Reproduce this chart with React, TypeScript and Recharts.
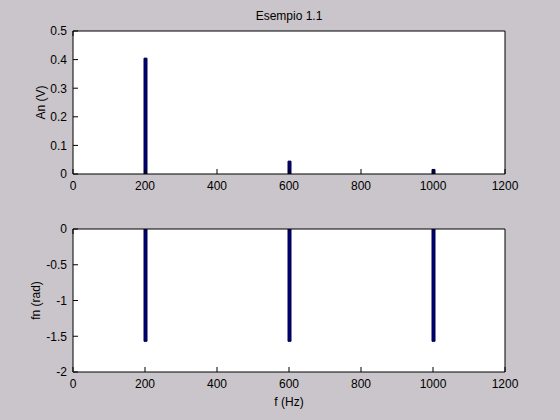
import React from 'react';
import { BarChart, Bar, XAxis, YAxis, CartesianGrid } from 'recharts';

const frequencies = [200, 600, 1000];
const amplitudes = [0.405, 0.045, 0.016];
const phases = [-1.5708, -1.5708, -1.5708];
const xTicks = [0, 200, 400, 600, 800, 1000, 1200];
const ampTicks = [0, 0.1, 0.2, 0.3, 0.4, 0.5];
const phaseTicks = [-2, -1.5, -1, -0.5, 0];

const ampData = frequencies.map((f, i) => ({ f, v: amplitudes[i] }));
const phaseData = frequencies.map((f, i) => ({ f, v: phases[i] }));

const FONT = '"Liberation Sans", Arial, sans-serif';
const BG = '#cac5ca';
const FS = 12;
const TICK = 5;
const XM = 7; // gap between x axis and tick label top
const YM = 6; // gap between y axis and tick label end

const BottomTick = (p: any) => {
  const axisY = p.y - XM;
  return (
    <g>
      <line x1={p.x} x2={p.x} y1={axisY} y2={axisY - TICK} stroke="#000" />
      <text x={p.x} y={p.y} dy="0.71em" textAnchor="middle" fill="#000" fontSize={FS} fontFamily={FONT}>
        {p.payload.value}
      </text>
    </g>
  );
};

const TopTick = (p: any) => (
  <line x1={p.x} x2={p.x} y1={p.y} y2={p.y + TICK} stroke="#000" />
);

const LeftTick = (p: any) => {
  const axisX = p.x + YM;
  return (
    <g>
      <line x1={axisX} x2={axisX + TICK} y1={p.y} y2={p.y} stroke="#000" />
      <text x={p.x} y={p.y} dy="0.36em" textAnchor="end" fill="#000" fontSize={FS} fontFamily={FONT}>
        {p.payload.value}
      </text>
    </g>
  );
};

const RightTick = (p: any) => (
  <line x1={p.x} x2={p.x - TICK} y1={p.y} y2={p.y} stroke="#000" />
);

const rotLabel = (text: string, cx: number) => (props: any) => {
  const vb = props.viewBox || {};
  const cy = vb.y + vb.height / 2;
  return (
    <text
      x={cx}
      y={cy}
      textAnchor="middle"
      dominantBaseline="central"
      transform={`rotate(-90 ${cx} ${cy})`}
      fill="#000"
      fontSize={FS}
      fontFamily={FONT}
    >
      {text}
    </text>
  );
};

function Panel(props: {
  data: any[];
  domain: [number, number];
  yTicks: number[];
  top: number;
  bottom: number;
  yLabel: string;
  yLabelX: number;
  title?: string;
  xLabel?: string;
  xHeight: number;
}) {
  const { data, domain, yTicks, top, bottom, yLabel, yLabelX, title, xLabel, xHeight } = props;
  return (
    <BarChart
      width={560}
      height={210}
      data={data}
      margin={{ top: top - 1, left: 33, right: 54, bottom }}
      barSize={3}
    >
      <CartesianGrid horizontal={false} vertical={false} fill="#ffffff" stroke="none" />
      <XAxis
        dataKey="f"
        type="number"
        domain={[0, 1200]}
        ticks={xTicks}
        allowDataOverflow
        stroke="#000"
        tickLine={false}
        tickSize={0}
        tickMargin={XM}
        tick={<BottomTick />}
        height={xHeight}
        interval={0}
        label={
          xLabel
            ? { value: xLabel, position: 'insideBottom', offset: 2, fill: '#000', fontSize: FS, fontFamily: FONT }
            : undefined
        }
      />
      <XAxis
        xAxisId="top"
        orientation="top"
        type="number"
        domain={[0, 1200]}
        ticks={xTicks}
        stroke="#000"
        tickLine={false}
        tickSize={0}
        tickMargin={0}
        tick={<TopTick />}
        interval={0}
        height={1}
        label={
          title
            ? { value: title, position: 'top', offset: 10, fill: '#000', fontSize: FS, fontFamily: FONT }
            : undefined
        }
      />
      <YAxis
        type="number"
        domain={domain}
        ticks={yTicks}
        allowDataOverflow
        stroke="#000"
        tickLine={false}
        tickSize={0}
        tickMargin={YM}
        tick={<LeftTick />}
        interval={0}
        width={40}
        label={{ content: rotLabel(yLabel, yLabelX) } as any}
      />
      <YAxis
        yAxisId="right"
        orientation="right"
        type="number"
        domain={domain}
        ticks={yTicks}
        stroke="#000"
        tickLine={false}
        tickSize={0}
        tickMargin={0}
        tick={<RightTick />}
        interval={0}
        width={1}
      />
      <Bar dataKey="v" fill="#00007f" stroke="#000040" strokeWidth={1} isAnimationActive={false} />
    </BarChart>
  );
}

export default function App() {
  return (
    <div
      style={{
        position: 'absolute',
        left: 0,
        top: 0,
        width: 560,
        height: 420,
        background: BG,
        overflow: 'hidden',
      }}
    >
      <div style={{ position: 'absolute', left: 0, top: 0 }}>
        <Panel
          data={ampData}
          domain={[0, 0.5]}
          yTicks={ampTicks}
          top={31}
          bottom={6}
          xHeight={30}
          yLabel="An (V)"
          yLabelX={40.5}
          title="Esempio 1.1"
        />
      </div>
      <div style={{ position: 'absolute', left: 0, top: 210 }}>
        <Panel
          data={phaseData}
          domain={[-2, 0]}
          yTicks={phaseTicks}
          top={19}
          bottom={12}
          xHeight={36}
          yLabel="fn (rad)"
          yLabelX={35.5}
          xLabel="f (Hz)"
        />
      </div>
    </div>
  );
}
